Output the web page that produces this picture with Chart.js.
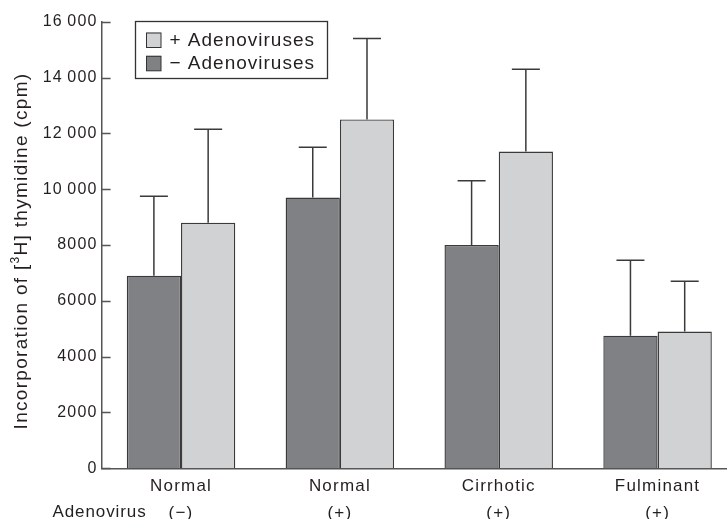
<!DOCTYPE html>
<html>
<head>
<meta charset="utf-8">
<script src="https://cdn.jsdelivr.net/npm/chart.js@4.4.1/dist/chart.umd.min.js"></script>
<style>
  html, body { margin: 0; padding: 0; background: #fff; overflow: hidden; width: 727px; height: 519px; }
  canvas { display: block; }
</style>
</head>
<body>
<canvas id="c" width="740" height="519"></canvas>
<script>
// Liver groups (tissue, adenovirus status)
const groups = [["Normal", "(−)"], ["Normal", "(+)"], ["Cirrhotic", "(+)"], ["Fulminant", "(+)"]];
const rowLabel = "Adenovirus";

// Mean incorporation (cpm) and SD, without / with adenoviruses
const withoutVirus   = [6900, 9700, 8000, 4750];
const withoutVirusSD = [2850, 1800, 2300, 2700];
const withVirus      = [8800, 12500, 11350, 4900];
const withVirusSD    = [3350, 2900, 2950, 1800];

const seriesNames = ["− Adenoviruses", "+ Adenoviruses"];
const yTicks = [0, 2000, 4000, 6000, 8000, 10000, 12000, 14000, 16000];

const FONT = "'Liberation Sans', Arial, Helvetica, sans-serif";
const INK = '#231f20';
const DARK = '#808184';
const LIGHT = '#d1d2d4';
const EDGE = '#3a3a3a';

function fmtTick(v) {
  if (v >= 10000) {
    const s = String(v);
    return s.slice(0, s.length - 3) + '\u2009' + s.slice(-3);
  }
  return String(v);
}

// Spread glyphs a little for all axis text
const spacing = {
  id: 'spacing',
  beforeDraw(chart) { chart.ctx.letterSpacing = '1.2px'; }
};

// Upward SD whiskers with caps
const errorBars = {
  id: 'errorBars',
  afterDatasetsDraw(chart) {
    const { ctx } = chart;
    const y = chart.scales.y;
    const sds = [withoutVirusSD, withVirusSD];
    chart.data.datasets.forEach((ds, i) => {
      chart.getDatasetMeta(i).data.forEach((bar, j) => {
        const top = y.getPixelForValue(ds.data[j] + sds[i][j]);
        ctx.save();
        ctx.strokeStyle = EDGE;
        ctx.lineWidth = 1.5;
        ctx.beginPath();
        ctx.moveTo(bar.x, bar.y);
        ctx.lineTo(bar.x, top);
        ctx.moveTo(bar.x - 14, top);
        ctx.lineTo(bar.x + 14, top);
        ctx.stroke();
        ctx.restore();
      });
    });
  }
};

// Inward tick marks, axis title, row caption and boxed key
const decorations = {
  id: 'decorations',
  afterDraw(chart) {
    const { ctx, chartArea } = chart;
    const y = chart.scales.y;
    ctx.save();
    ctx.strokeStyle = '#555';
    ctx.lineWidth = 1.3;
    ctx.beginPath();
    yTicks.forEach(v => {
      const py = Math.round(y.getPixelForValue(v)) + 0.5;
      ctx.moveTo(chartArea.left, py);
      ctx.lineTo(chartArea.left + 9, py);
    });
    ctx.stroke();
    ctx.restore();

    // y-axis title with superscript
    ctx.save();
    ctx.fillStyle = INK;
    ctx.letterSpacing = '1.3px';
    ctx.translate(22, 251);
    ctx.rotate(-Math.PI / 2);
    ctx.textBaseline = 'middle';
    const big = '19px ' + FONT, small = '12px ' + FONT;
    const parts = [
      { t: 'Incorporation of [', f: big, dy: 0 },
      { t: '3', f: small, dy: -6 },
      { t: 'H] thymidine (cpm)', f: big, dy: 0 }
    ];
    let total = 0;
    parts.forEach(p => { ctx.font = p.f; p.w = ctx.measureText(p.t).width; total += p.w; });
    let x = -total / 2;
    parts.forEach(p => { ctx.font = p.f; ctx.textAlign = 'left'; ctx.fillText(p.t, x, p.dy); x += p.w; });
    ctx.restore();

    // row caption under the category names
    ctx.save();
    ctx.fillStyle = INK;
    ctx.letterSpacing = '0.9px';
    ctx.font = '17px ' + FONT;
    ctx.textBaseline = 'middle';
    ctx.textAlign = 'left';
    ctx.fillText(rowLabel, 52.5, 512.5);
    ctx.restore();

    // key
    ctx.save();
    ctx.strokeStyle = '#333';
    ctx.lineWidth = 1.3;
    ctx.strokeRect(135.5, 21.5, 192, 57);
    const items = [
      { name: seriesNames[1], color: LIGHT, cy: 40 },
      { name: seriesNames[0], color: DARK, cy: 63.3 }
    ];
    ctx.font = '19px ' + FONT;
    ctx.letterSpacing = '1px';
    ctx.textBaseline = 'middle';
    ctx.textAlign = 'left';
    items.forEach(it => {
      ctx.fillStyle = it.color;
      ctx.fillRect(146, it.cy - 7.5, 15, 15);
      ctx.lineWidth = 1;
      ctx.strokeStyle = '#333';
      ctx.strokeRect(146.5, it.cy - 7, 14.5, 14.5);
      ctx.fillStyle = INK;
      ctx.fillText(it.name, 169.5, it.cy + 0.5);
    });
    ctx.restore();
  }
};

new Chart(document.getElementById('c'), {
  type: 'bar',
  data: {
    labels: groups,
    datasets: [
      { label: seriesNames[0], data: withoutVirus, backgroundColor: DARK, borderColor: EDGE, borderWidth: 1.4 },
      { label: seriesNames[1], data: withVirus, backgroundColor: LIGHT, borderColor: EDGE, borderWidth: 1.4 }
    ]
  },
  options: {
    responsive: false,
    animation: false,
    devicePixelRatio: 1,
    categoryPercentage: 0.683,
    barPercentage: 1.0,
    layout: { padding: { top: 21.7, right: 3, left: 0, bottom: 0 } },
    plugins: { legend: { display: false }, tooltip: { enabled: false } },
    scales: {
      x: {
        grid: { display: false, drawTicks: false },
        border: { display: true, color: '#555', width: 1.5 },
        ticks: {
          color: INK,
          font: { family: FONT, size: 17, lineHeight: 1.57 },
          padding: 5,
          maxRotation: 0,
          autoSkip: false
        },
        afterFit(scale) { scale.height = 50.7; }
      },
      y: {
        min: 0,
        max: 16000,
        grid: { display: false, drawTicks: false },
        border: { display: true, color: '#555', width: 1.5 },
        afterBuildTicks(scale) { scale.ticks = yTicks.map(v => ({ value: v })); },
        ticks: {
          color: INK,
          font: { family: FONT, size: 16 },
          padding: 4,
          callback: v => fmtTick(v)
        },
        afterFit(scale) { scale.width = 101.6; }
      }
    }
  },
  plugins: [spacing, errorBars, decorations]
});
</script>
</body>
</html>
